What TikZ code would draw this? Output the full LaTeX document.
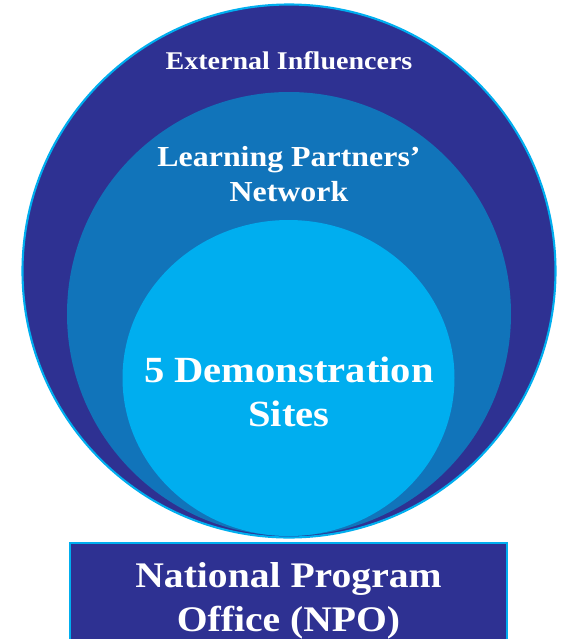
\documentclass[tikz,border=0pt]{standalone}
\usepackage{tikz}
\usetikzlibrary{shapes.geometric}
\usetikzlibrary{positioning}
\usepackage{xcolor}
\usepackage{fontspec}
\setmainfont{Liberation Serif}[FakeStretch=1.1]
\definecolor{darkring}{HTML}{2E3192}
\definecolor{midring}{HTML}{1174BA}
\definecolor{skyring}{HTML}{00AEEF}

\begin{document}
\begin{tikzpicture}
            % Nested circles of the programme
            \useasboundingbox (0,0) rectangle (11.26,-12.78);
            \node[draw=skyring, line width=1.2pt, circle, fill=darkring, minimum size=10.66cm] (outer) at (5.78,-5.42) {};
            \node[circle, fill=midring, minimum size=8.88cm] (middle) at (5.78,-6.28) {};
            \node[ellipse, fill=skyring, minimum width=6.64cm, minimum height=6.32cm] (inner) at (5.77,-7.56) {};
            \node[text=white, font=\bfseries\fontsize{14.5}{17}\selectfont, align=center] (extlabel) at (5.78,-1.22) {External Influencers};
            \node[text=white, font=\bfseries\fontsize{16.5}{20}\selectfont, align=center] (netlabel) at (5.78,-3.48) {Learning Partners'\\Network};
            \node[text=white, font=\bfseries\fontsize{21}{25}\selectfont, align=center] (sitelabel) at (5.78,-7.83) {5 Demonstration\\Sites};
            \node[draw=skyring, line width=1.2pt, rectangle, fill=darkring, text=white, font=\bfseries\fontsize{20.5}{25}\selectfont, align=center, minimum width=8.74cm, minimum height=2.32cm] (npo) at (5.77,-12.02) {National Program\\Office (NPO)};
        \end{tikzpicture}
\end{document}
